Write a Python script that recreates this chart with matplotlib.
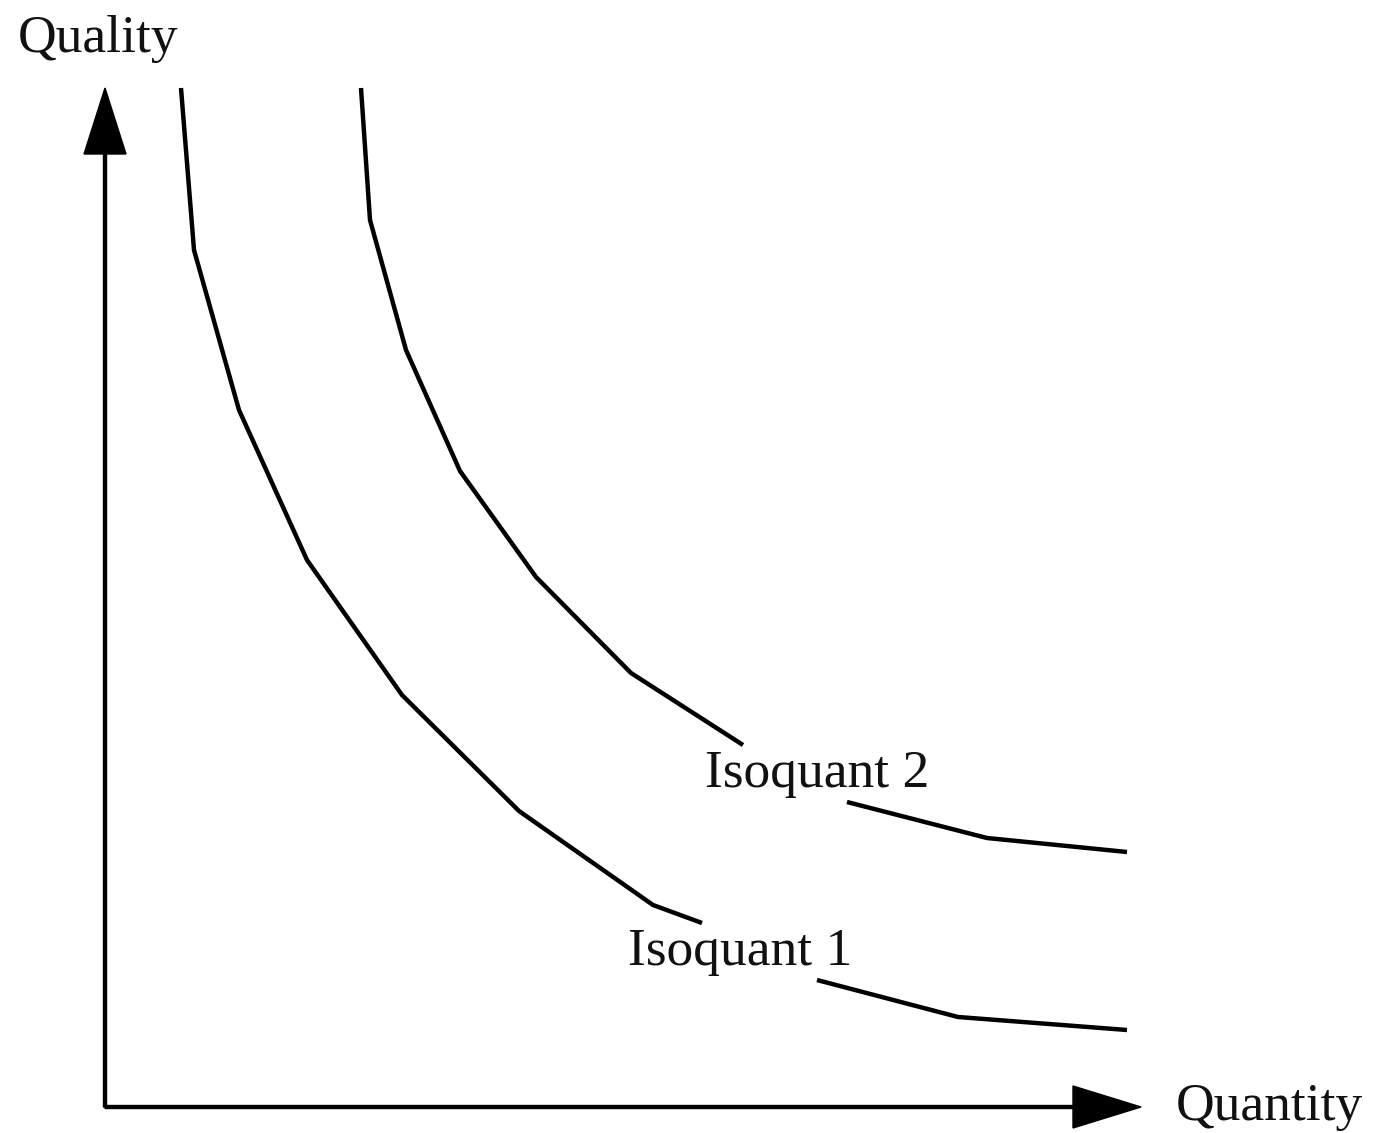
import numpy as np
import matplotlib.pyplot as plt

# isoquant curves (NaN = break where the label sits)
iso1_x = [76, 89, 134, 202, 297, 414, 548, 597, np.nan, 712, 853, 1022]
iso1_y = [1019, 857, 697, 547, 412, 296, 202, 184, np.nan, 127, 90, 77]
iso2_x = [256, 265, 301, 355, 431, 526, 638, np.nan, 742, 882, 1022]
iso2_y = [1019, 887, 757, 636, 530, 434, 362, np.nan, 305, 269, 255]

x_label = 'Quantity'
y_label = 'Quality'
curve_labels = ['Isoquant 1', 'Isoquant 2']

fig = plt.figure(figsize=(13.74, 11.33), dpi=100)
ax = fig.add_axes([0, 0, 1, 1])
ax.set_xlim(-105, 1374 - 105)
ax.set_ylim(1107 - 1133, 1107)
ax.axis('off')

font = dict(family='Liberation Serif', size=38.5, color='#111111')

# axes with arrow heads
ax.arrow(0, 0, 0, 1019, width=3, head_width=42, head_length=66,
         length_includes_head=True, fc='black', ec='black')
ax.arrow(0, 0, 1036, 0, width=3, head_width=42, head_length=68,
         length_includes_head=True, fc='black', ec='black')

for xs, ys in [(iso1_x, iso1_y), (iso2_x, iso2_y)]:
    ax.plot(xs, ys, color='black', lw=3.2, solid_joinstyle='miter',
            solid_capstyle='butt')

ax.text(-87, 1055, y_label, ha='left', va='baseline', **font)
ax.text(1071, -13, x_label, ha='left', va='baseline', **font)
ax.text(523, 142, curve_labels[0], ha='left', va='baseline', **font)
ax.text(600, 320, curve_labels[1], ha='left', va='baseline', **font)

fig.savefig('out.png', dpi=100)
